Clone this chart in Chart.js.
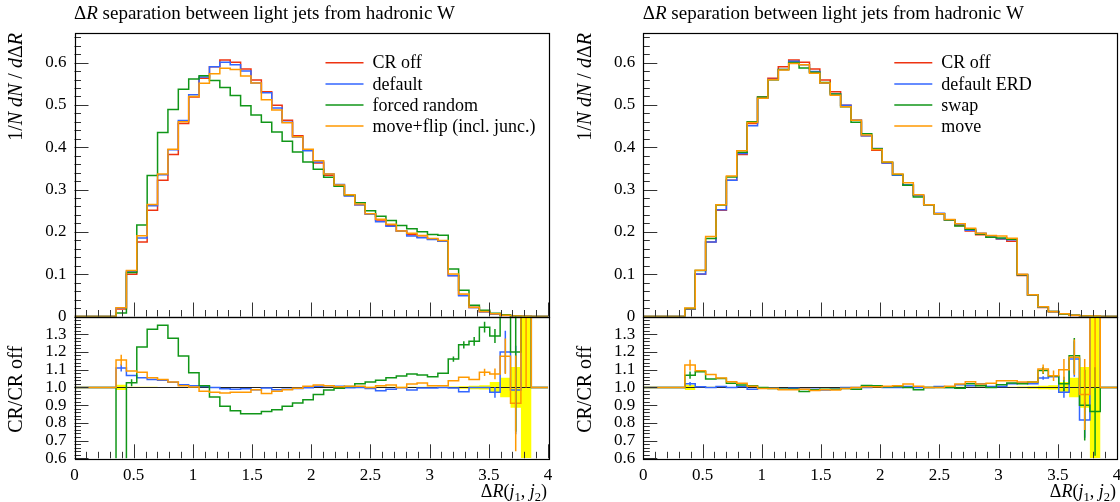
<!DOCTYPE html>
<html>
<head>
<meta charset="utf-8">
<script src="https://cdn.jsdelivr.net/npm/chart.js@4.4.1/dist/chart.umd.min.js"></script>
<style>
  html, body { margin: 0; padding: 0; background: #fff; }
  body { width: 1120px; height: 502px; position: relative; overflow: hidden; }
  canvas { position: absolute; }
</style>
</head>
<body>
<canvas id="leftMain" width="560" height="322" style="left:0;top:0"></canvas>
<canvas id="leftRatio" width="560" height="192" style="left:0;top:310px"></canvas>
<canvas id="rightMain" width="560" height="322" style="left:560px;top:0"></canvas>
<canvas id="rightRatio" width="560" height="192" style="left:560px;top:310px"></canvas>
<script>
// binning: 46 bins of ~0.0877 in Delta R
const binWidth = 0.0877;
const nBins = 46;
const binEdges = Array.from({ length: nBins + 1 }, (_, i) => +(i * binWidth).toFixed(4));

// tick marks and labels
const xMajorTicks = [0, 0.5, 1, 1.5, 2, 2.5, 3, 3.5, 4];
const xTickLabels = ['0', '0.5', '1', '1.5', '2', '2.5', '3', '3.5', '4'];
const yMainTicks = [0, 0.1, 0.2, 0.3, 0.4, 0.5, 0.6];
const yMainLabels = ['0', '0.1', '0.2', '0.3', '0.4', '0.5', '0.6'];
const yRatioTicks = [0.6, 0.7, 0.8, 0.9, 1.0, 1.1, 1.2, 1.3];
const yRatioLabels = ['0.6', '0.7', '0.8', '0.9', '1.0', '1.1', '1.2', '1.3'];

// 1/N dN/dDeltaR, one value per bin
const crOff = [0, 0, 0, 0, 0.018, 0.100, 0.176, 0.251, 0.322, 0.383, 0.456, 0.519, 0.563, 0.590, 0.606, 0.601, 0.585, 0.559, 0.531, 0.499, 0.464, 0.427, 0.393, 0.363, 0.334, 0.310, 0.286, 0.264, 0.243, 0.228, 0.215, 0.202, 0.193, 0.187, 0.183, 0.178, 0.097, 0.050, 0.021, 0.011, 0.006, 0.0025, 0.001, 0.0004, 0, 0];
const crOffErr = [0, 0, 0, 0, 0.015, 0.004, 0.003, 0.003, 0.002, 0.002, 0.002, 0.002, 0.002, 0.002, 0.002, 0.002, 0.002, 0.002, 0.002, 0.002, 0.002, 0.002, 0.002, 0.002, 0.003, 0.003, 0.003, 0.003, 0.003, 0.003, 0.003, 0.003, 0.003, 0.003, 0.003, 0.003, 0.005, 0.007, 0.01, 0.012, 0.03, 0.055, 0.115, 1.0, 0, 0];

const defaultCR = [0, 0, 0, 0, 0.020, 0.107, 0.1855, 0.262, 0.335, 0.394, 0.463, 0.524, 0.566, 0.590, 0.601, 0.595, 0.580, 0.552, 0.529, 0.4925, 0.459, 0.424, 0.392, 0.365, 0.337, 0.312, 0.285, 0.264, 0.2415, 0.2237, 0.213, 0.2016, 0.190, 0.186, 0.182, 0.178, 0.0966, 0.049, 0.021, 0.011, 0.0058, 0.003, 0.001, 0.0003, 0, 0];
const forcedRandom = [0, 0, 0, 0, 0.008, 0.104, 0.216, 0.333, 0.435, 0.489, 0.537, 0.5615, 0.569, 0.558, 0.541, 0.522, 0.498, 0.476, 0.459, 0.436, 0.414, 0.389, 0.365, 0.348, 0.329, 0.308, 0.287, 0.269, 0.250, 0.237, 0.227, 0.215, 0.2075, 0.200, 0.194, 0.192, 0.1125, 0.062, 0.0265, 0.0147, 0.0077, 0.004, 0.0012, 0, 0, 0];
const moveFlip = [0, 0, 0, 0, 0.0208, 0.109, 0.191, 0.2645, 0.3365, 0.395, 0.460, 0.520, 0.551, 0.5735, 0.5866, 0.584, 0.5686, 0.5517, 0.512, 0.488, 0.458, 0.425, 0.395, 0.368, 0.337, 0.311, 0.288, 0.266, 0.243, 0.230, 0.218, 0.202, 0.1967, 0.1917, 0.1846, 0.1796, 0.1007, 0.0529, 0.0219, 0.0119, 0.0065, 0.0029, 0.0009, 0.0008, 0, 0];

const defaultERD = [0, 0, 0, 0, 0.0184, 0.1003, 0.176, 0.252, 0.322, 0.385, 0.451, 0.516, 0.560, 0.584, 0.603, 0.595, 0.579, 0.551, 0.526, 0.499, 0.464, 0.427, 0.397, 0.363, 0.334, 0.3115, 0.286, 0.264, 0.244, 0.228, 0.218, 0.204, 0.197, 0.188, 0.184, 0.1815, 0.0994, 0.051, 0.0221, 0.0117, 0.0058, 0.0029, 0.0008, 0.0008, 0, 0];
const swap = [0, 0, 0, 0, 0.0192, 0.1088, 0.1843, 0.2636, 0.3297, 0.388, 0.460, 0.519, 0.5596, 0.584, 0.600, 0.587, 0.577, 0.553, 0.526, 0.496, 0.459, 0.432, 0.3965, 0.3645, 0.3357, 0.310, 0.2823, 0.264, 0.243, 0.228, 0.214, 0.206, 0.195, 0.187, 0.1857, 0.1825, 0.0989, 0.0515, 0.023, 0.0117, 0.0061, 0.0029, 0.0009, 0.00035, 0, 0];
const move = [0, 0, 0, 0, 0.0203, 0.1094, 0.1888, 0.2643, 0.3323, 0.392, 0.4587, 0.5159, 0.5596, 0.5823, 0.598, 0.595, 0.575, 0.5517, 0.523, 0.496, 0.464, 0.4287, 0.3946, 0.3652, 0.337, 0.3159, 0.2877, 0.264, 0.243, 0.2294, 0.219, 0.2085, 0.1967, 0.1915, 0.190, 0.1848, 0.0999, 0.0515, 0.0232, 0.0117, 0.0066, 0.0029, 0.00096, 0.0012, 0, 0];

// ratios to CR off
const ratioDefault = [1, 1, 1, 1, 1.11, 1.067, 1.054, 1.045, 1.04, 1.029, 1.015, 1.009, 1.005, 1.0, 0.992, 0.99, 0.992, 0.987, 0.996, 0.987, 0.99, 0.994, 0.998, 1.006, 1.009, 1.006, 0.998, 1.0, 0.994, 0.981, 0.99, 0.998, 0.985, 0.996, 0.996, 1.0, 0.996, 0.975, 1.0, 1.0, 0.972, 1.2, 0.985, 2.0, 1, 1];
const ratioForced = [1, 1, 1, 1, 0.45, 1.026, 1.228, 1.328, 1.351, 1.277, 1.177, 1.082, 1.01, 0.946, 0.893, 0.868, 0.851, 0.851, 0.864, 0.874, 0.893, 0.912, 0.93, 0.96, 0.985, 0.995, 1.005, 1.02, 1.03, 1.04, 1.055, 1.065, 1.075, 1.07, 1.06, 1.08, 1.16, 1.24, 1.26, 1.34, 1.29, 2.0, 1.2, 2.0, 1, 1];
const ratioMoveFlip = [1, 1, 1, 1, 1.154, 1.092, 1.085, 1.054, 1.045, 1.031, 1.009, 1.002, 0.978, 0.972, 0.968, 0.972, 0.972, 0.987, 0.965, 0.978, 0.987, 0.995, 1.006, 1.013, 1.009, 1.004, 1.006, 1.006, 1.0, 1.009, 1.013, 1.0, 1.019, 1.025, 1.009, 1.009, 1.038, 1.057, 1.044, 1.085, 1.076, 1.176, 0.91, 2.0, 1, 1];
const ratioERD = [1, 1, 1, 1, 1.02, 1.003, 1.0, 1.005, 1.0, 1.005, 0.99, 0.995, 0.995, 0.99, 0.995, 0.99, 0.99, 0.985, 0.99, 1.0, 1.0, 1.0, 1.01, 1.0, 1.0, 1.005, 1.0, 1.0, 1.005, 1.0, 1.015, 1.01, 1.02, 1.005, 1.005, 1.02, 1.025, 1.02, 1.053, 1.06, 0.972, 1.16, 0.816, 2.0, 1, 1];
const ratioSwap = [1, 1, 1, 1, 1.069, 1.088, 1.047, 1.05, 1.024, 1.013, 1.009, 1.0, 0.994, 0.99, 0.99, 0.977, 0.987, 0.99, 0.99, 0.994, 0.99, 1.011, 1.009, 1.004, 1.005, 1.0, 0.987, 1.0, 1.0, 1.0, 0.995, 1.02, 1.01, 1.0, 1.015, 1.025, 1.02, 1.03, 1.095, 1.065, 1.02, 1.178, 0.9, 0.864, 1, 1];
const ratioMove = [1, 1, 1, 1, 1.126, 1.094, 1.073, 1.053, 1.032, 1.024, 1.006, 0.994, 0.994, 0.987, 0.987, 0.99, 0.983, 0.987, 0.985, 0.994, 1.0, 1.004, 1.004, 1.006, 1.009, 1.019, 1.006, 1.0, 1.0, 1.006, 1.019, 1.032, 1.019, 1.024, 1.038, 1.038, 1.03, 1.03, 1.104, 1.066, 1.1, 1.17, 0.96, 2.0, 1, 1];

// visible error bars on the ratios: [bin, half width]
const errDefault = [[4, 0.02], [40, 0.03], [41, 0.12], [42, 0.25]];
const errForced = [[5, 0.02], [36, 0.015], [37, 0.02], [38, 0.025], [39, 0.03], [40, 0.04], [41, 0.3], [42, 0.45]];
const errMoveFlip = [[4, 0.03], [39, 0.02], [40, 0.03], [41, 0.1], [42, 0.27], [43, 1.0]];
const errERD = [[4, 0.01], [38, 0.01], [40, 0.03], [41, 0.1], [42, 0.1]];
const errSwap = [[4, 0.02], [38, 0.02], [40, 0.04], [41, 0.1], [42, 0.2], [43, 0.25]];
const errMove = [[4, 0.03], [38, 0.025], [39, 0.03], [40, 0.06], [41, 0.1], [42, 0.2], [43, 1.0]];

const RED = '#ee3311', BLUE = '#3366ff', GREEN = '#109618', ORANGE = '#ff9900';
const FONT = '"Liberation Serif", "DejaVu Serif", serif';

function setFont(ctx, size, italic) {
    ctx.font = (italic ? 'italic ' : '') + size + 'px ' + FONT;
}

// parts: [text, style] with style '' | 'i' | 'sub'
function drawRich(ctx, parts, x, y, size, align) {
    ctx.textAlign = 'left';
    let w = 0;
    parts.forEach(p => {
        setFont(ctx, p[1] === 'sub' ? size * 0.7 : size, p[1] === 'i');
        w += ctx.measureText(p[0]).width;
    });
    let cx = align === 'right' ? x - w : align === 'center' ? x - w / 2 : x;
    parts.forEach(p => {
        setFont(ctx, p[1] === 'sub' ? size * 0.7 : size, p[1] === 'i');
        ctx.fillText(p[0], cx, y + (p[1] === 'sub' ? size * 0.22 : 0));
        cx += ctx.measureText(p[0]).width;
    });
}

function stepPoints(vals) {
    const pts = vals.map((v, i) => ({ x: binEdges[i], y: v }));
    pts.push({ x: binEdges[vals.length], y: vals[vals.length - 1] });
    return pts;
}

function histSet(label, vals, color, order) {
    return { label, data: stepPoints(vals), borderColor: color, borderWidth: 1.5,
             stepped: true, pointRadius: 0, fill: false, order };
}

function bandSets() {
    return [
        { label: 'bandLo', data: stepPoints(crOffErr.map(e => 1 - e)), borderColor: 'rgba(0,0,0,0)',
          stepped: true, pointRadius: 0, fill: false, order: 11 },
        { label: 'bandHi', data: stepPoints(crOffErr.map(e => 1 + e)), borderColor: 'rgba(0,0,0,0)',
          backgroundColor: '#ffff00', stepped: true, pointRadius: 0, fill: '-1', order: 10 }
    ];
}

const titleParts = [['\u0394', ''], ['R', 'i'], [' separation between light jets from hadronic W', '']];
const yMainParts = [['1/', ''], ['N', 'i'], [' ', ''], ['dN', 'i'], [' / ', ''], ['d', 'i'], ['\u0394', ''], ['R', 'i']];
const yRatioParts = [['CR/CR off', '']];
const xLabelParts = [['\u0394', ''], ['R', 'i'], ['(', ''], ['j', 'i'], ['1', 'sub'], [', ', ''], ['j', 'i'], ['2', 'sub'], [')', '']];

const rivetFrame = {
    id: 'rivetFrame',
    afterDatasetDraw(chart, args) {
        if (chart.data.datasets[args.index].label !== 'bandHi') return;
        const { ctx, chartArea: a, scales: { y } } = chart;
        const py = Math.round(y.getPixelForValue(1)) + 0.5;
        ctx.save();
        ctx.strokeStyle = '#222';
        ctx.lineWidth = 1;
        ctx.beginPath();
        ctx.moveTo(a.left, py);
        ctx.lineTo(a.right, py);
        ctx.stroke();
        ctx.restore();
    },
    afterDatasetsDraw(chart, args, opts) {
        const { ctx, chartArea: a, scales: { x, y } } = chart;
        ctx.save();

        // error bars on ratio curves
        ctx.save();
        ctx.beginPath();
        ctx.rect(a.left, a.top, a.right - a.left, a.bottom - a.top);
        ctx.clip();
        (opts.errors || []).forEach(e => {
            ctx.strokeStyle = e.color;
            ctx.lineWidth = 1.5;
            e.err.forEach(([bin, h]) => {
                const cx = x.getPixelForValue((binEdges[bin] + binEdges[bin + 1]) / 2);
                const v = e.vals[bin];
                ctx.beginPath();
                ctx.moveTo(cx, y.getPixelForValue(v - h));
                ctx.lineTo(cx, y.getPixelForValue(v + h));
                ctx.stroke();
            });
        });
        ctx.restore();

        // inward ticks
        ctx.strokeStyle = '#333';
        ctx.lineWidth = 1;
        ctx.beginPath();
        for (let i = 0; i <= 40; i++) {
            const px = Math.round(x.getPixelForValue(i / 10)) + 0.5;
            const len = i % 5 === 0 ? 14 : 6.5;
            ctx.moveTo(px, a.bottom);
            ctx.lineTo(px, a.bottom - len);
        }
        for (let j = 0; ; j++) {
            const v = y.min + j * 0.02;
            if (v > y.max + 1e-9) break;
            const py = Math.round(y.getPixelForValue(v)) + 0.5;
            const major = opts.yTicks.some(t => Math.abs(t - v) < 1e-6);
            ctx.moveTo(a.left, py);
            ctx.lineTo(a.left + (major ? 14 : 6.5), py);
        }
        ctx.stroke();

        // frame
        ctx.strokeStyle = '#000';
        ctx.lineWidth = 1.2;
        ctx.strokeRect(Math.round(a.left) + 0.5, Math.round(a.top) + 0.5,
                       Math.round(a.right - a.left), Math.round(a.bottom - a.top));

        // y tick labels
        ctx.fillStyle = '#000';
        setFont(ctx, 17, false);
        ctx.textAlign = 'right';
        ctx.textBaseline = 'middle';
        opts.yTicks.forEach((t, i) => {
            ctx.fillText(opts.yLabels[i], a.left - 8, y.getPixelForValue(t));
        });
        ctx.textBaseline = 'alphabetic';

        // rotated y title
        ctx.save();
        if (opts.kind === 'main') {
            ctx.translate(a.left - 52.5, a.top);
            ctx.rotate(-Math.PI / 2);
            drawRich(ctx, yMainParts, 0, 0, 20, 'right');
        } else {
            ctx.translate(a.left - 52.5, (a.top + a.bottom) / 2 + 2);
            ctx.rotate(-Math.PI / 2);
            drawRich(ctx, yRatioParts, 0, 0, 20, 'center');
        }
        ctx.restore();

        if (opts.kind === 'main') {
            drawRich(ctx, titleParts, a.left - 0.5, 19, 19, 'left');
            // legend
            (opts.legend || []).forEach((item, i) => {
                const ly = a.top + 29.8 + i * 21.1;
                ctx.strokeStyle = item.color;
                ctx.lineWidth = 1.5;
                ctx.beginPath();
                ctx.moveTo(a.left + 251, ly);
                ctx.lineTo(a.left + 289, ly);
                ctx.stroke();
                ctx.fillStyle = '#000';
                drawRich(ctx, [[item.label, '']], a.left + 298, ly + 5.6, 18, 'left');
            });
        } else {
            setFont(ctx, 17, false);
            ctx.textAlign = 'center';
            xMajorTicks.forEach((t, i) => {
                ctx.fillText(xTickLabels[i], x.getPixelForValue(t), a.bottom + 21.5);
            });
            drawRich(ctx, xLabelParts, a.right - 1, a.bottom + 38.4, 18, 'right');
        }
        ctx.restore();
    }
};
Chart.register(rivetFrame);

function makeChart(id, datasets, yMin, yMax, padding, frame) {
    return new Chart(document.getElementById(id), {
        type: 'line',
        data: { datasets },
        options: {
            responsive: false,
            animation: false,
            events: [],
            layout: { padding },
            scales: {
                x: { type: 'linear', min: 0, max: 4, display: false },
                y: { type: 'linear', min: yMin, max: yMax, display: false }
            },
            plugins: {
                legend: { display: false },
                tooltip: { enabled: false },
                rivetFrame: frame
            }
        }
    });
}

const padLeftMain = { left: 74.5, right: 12, top: 33, bottom: 5.5 };
const padLeftRatio = { left: 74.5, right: 12, top: 6.5, bottom: 43.7 };
const padRightMain = { left: 83.3, right: 3, top: 33, bottom: 5.5 };
const padRightRatio = { left: 83.3, right: 3, top: 6.5, bottom: 43.7 };

// Left panel
makeChart('leftMain', [
    histSet('CR off', crOff, RED, 4),
    histSet('default', defaultCR, BLUE, 3),
    histSet('forced random', forcedRandom, GREEN, 2),
    histSet('move+flip (incl. junc.)', moveFlip, ORANGE, 1)
], 0, 0.67, padLeftMain, {
    kind: 'main', yTicks: yMainTicks, yLabels: yMainLabels,
    legend: [
        { label: 'CR off', color: RED },
        { label: 'default', color: BLUE },
        { label: 'forced random', color: GREEN },
        { label: 'move+flip (incl. junc.)', color: ORANGE }
    ]
});

makeChart('leftRatio', [
    ...bandSets(),
    histSet('default', ratioDefault, BLUE, 3),
    histSet('forced random', ratioForced, GREEN, 2),
    histSet('move+flip (incl. junc.)', ratioMoveFlip, ORANGE, 1)
], 0.6, 1.4, padLeftRatio, {
    kind: 'ratio', yTicks: yRatioTicks, yLabels: yRatioLabels,
    errors: [
        { vals: ratioDefault, err: errDefault, color: BLUE },
        { vals: ratioForced, err: errForced, color: GREEN },
        { vals: ratioMoveFlip, err: errMoveFlip, color: ORANGE }
    ]
});

// Right panel
makeChart('rightMain', [
    histSet('CR off', crOff, RED, 4),
    histSet('default ERD', defaultERD, BLUE, 3),
    histSet('swap', swap, GREEN, 2),
    histSet('move', move, ORANGE, 1)
], 0, 0.67, padRightMain, {
    kind: 'main', yTicks: yMainTicks, yLabels: yMainLabels,
    legend: [
        { label: 'CR off', color: RED },
        { label: 'default ERD', color: BLUE },
        { label: 'swap', color: GREEN },
        { label: 'move', color: ORANGE }
    ]
});

makeChart('rightRatio', [
    ...bandSets(),
    histSet('default ERD', ratioERD, BLUE, 3),
    histSet('swap', ratioSwap, GREEN, 2),
    histSet('move', ratioMove, ORANGE, 1)
], 0.6, 1.4, padRightRatio, {
    kind: 'ratio', yTicks: yRatioTicks, yLabels: yRatioLabels,
    errors: [
        { vals: ratioERD, err: errERD, color: BLUE },
        { vals: ratioSwap, err: errSwap, color: GREEN },
        { vals: ratioMove, err: errMove, color: ORANGE }
    ]
});
</script>
</body>
</html>
